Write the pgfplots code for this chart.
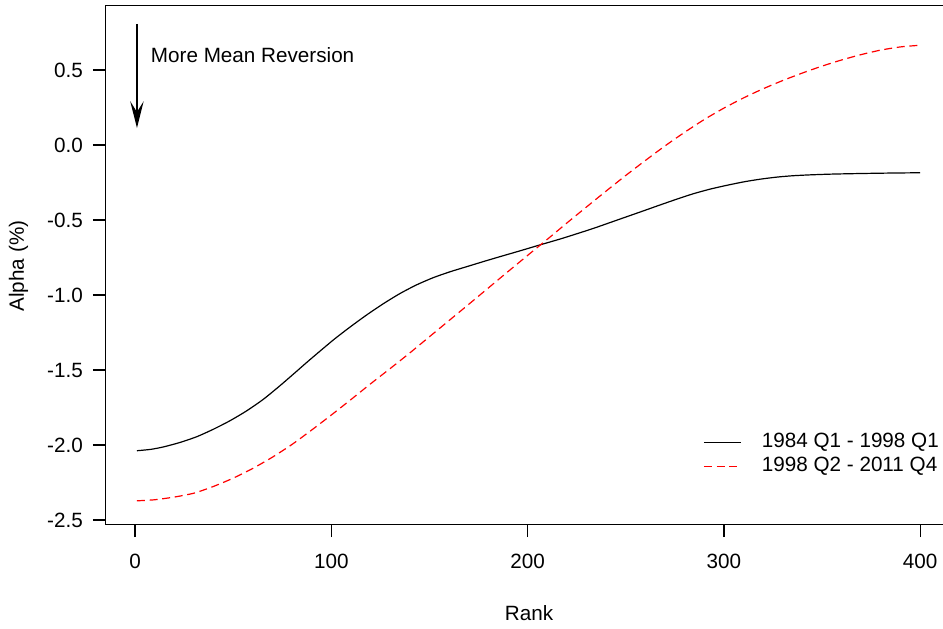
\documentclass[border=0pt]{standalone}
\usepackage{fontspec}
\setmainfont{Liberation Sans}
\usepackage{pgfplots}
\pgfplotsset{compat=1.18}
\usetikzlibrary{arrows.meta}
\begin{document}
\begin{tikzpicture}
\begin{axis}[
  x=1.47225pt, y=112.5pt,
  xmin=-15, xmax=416.5, ymin=-2.53, ymax=0.93,
  font=\fontsize{15.5}{18}\selectfont,
  axis line style={line width=0.9pt},
  xtick={0,100,200,300,400},
  xticklabels={0,100,200,300,400},
  ytick={-2.5,-2,-1.5,-1,-0.5,0,0.5},
  yticklabels={-2.5,-2.0,-1.5,-1.0,-0.5,0.0,0.5},
  tick align=outside, xtick pos=bottom, ytick pos=left,
  major tick length=9.5pt,
  tick style={line width=0.9pt, black},
  xticklabel style={yshift=-9pt},
  yticklabel style={xshift=-4pt},
  xlabel={Rank}, ylabel={Alpha (\%)},
  xlabel style={at={(axis description cs:0.5,-0.170)}, anchor=center},
  ylabel style={at={(axis description cs:-0.1028,0.498)}, anchor=center, rotate=0},
  legend style={at={(axis description cs:0.7054,0.1763)}, anchor=north west,
    draw=none, fill=none, inner sep=0pt, font=\fontsize{15.5}{18}\selectfont,
    nodes={inner sep=0pt, text height=11pt, text depth=3pt},
    row sep=4pt,
    /tikz/every odd column/.append style={column sep=15pt}},
  legend cell align=left,
  legend image code/.code={\draw[#1] (0pt,0pt) -- (28pt,0pt);},
]
\addplot[black, line width=0.9pt, smooth, tension=0.4] coordinates {
(1,-2.038) (8,-2.029) (14.4,-2.013) (22.9,-1.983) (31.4,-1.945) (39.9,-1.895)
(48.4,-1.838) (56.9,-1.772) (65.4,-1.695) (73.9,-1.604) (81.5,-1.518) (89.2,-1.430)
(101,-1.300) (109.5,-1.214) (118,-1.133) (126.5,-1.058) (135,-0.990) (143.5,-0.932)
(152,-0.884) (160.5,-0.845) (169,-0.811) (177.5,-0.777) (186,-0.744) (196,-0.706)
(206,-0.667) (216.5,-0.627) (225,-0.592) (233.5,-0.556) (242,-0.517) (250.5,-0.478)
(259,-0.439) (267.4,-0.400) (276,-0.361) (284.4,-0.325) (293,-0.294) (301.4,-0.269)
(310,-0.246) (318.4,-0.228) (327,-0.214) (335,-0.205) (344,-0.199) (355,-0.194)
(370,-0.190) (385,-0.187) (400,-0.185)
};
\addlegendentry{1984 Q1 - 1998 Q1}
\addplot[red, line width=0.9pt, dash pattern=on 6pt off 3.5pt, smooth, tension=0.4] coordinates {
(1,-2.372) (10,-2.365) (20,-2.347) (30,-2.321) (40,-2.276) (50,-2.221)
(60,-2.156) (70,-2.081) (80,-1.996) (90,-1.900) (100,-1.800) (110,-1.697)
(120,-1.592) (130,-1.490) (140,-1.386) (150,-1.278) (160,-1.170) (170,-1.062)
(180,-0.953) (190,-0.844) (200,-0.736) (210,-0.629) (220,-0.520) (230,-0.413)
(240,-0.307) (250,-0.203) (260,-0.103) (270,-0.006) (280,0.085) (290,0.170)
(300,0.246) (310,0.314) (320,0.375) (330,0.430) (340,0.480) (350,0.526)
(360,0.567) (370,0.603) (380,0.633) (390,0.654) (400,0.665)
};
\addlegendentry{1998 Q2 - 2011 Q4}
\draw[line width=2pt, -{Stealth[length=20pt, width=10pt, inset=8pt]}] (axis cs:1,0.807) -- (axis cs:1,0.113);
\node[anchor=west, inner sep=0pt] at (axis cs:8,0.6) {More Mean Reversion};
\coordinate (bl) at (axis cs:-68.77,-3.22);
\coordinate (tr) at (axis cs:411.6,0.9667);
\end{axis}
\pgfresetboundingbox
\useasboundingbox (bl) rectangle (tr);
\end{tikzpicture}
\end{document}
